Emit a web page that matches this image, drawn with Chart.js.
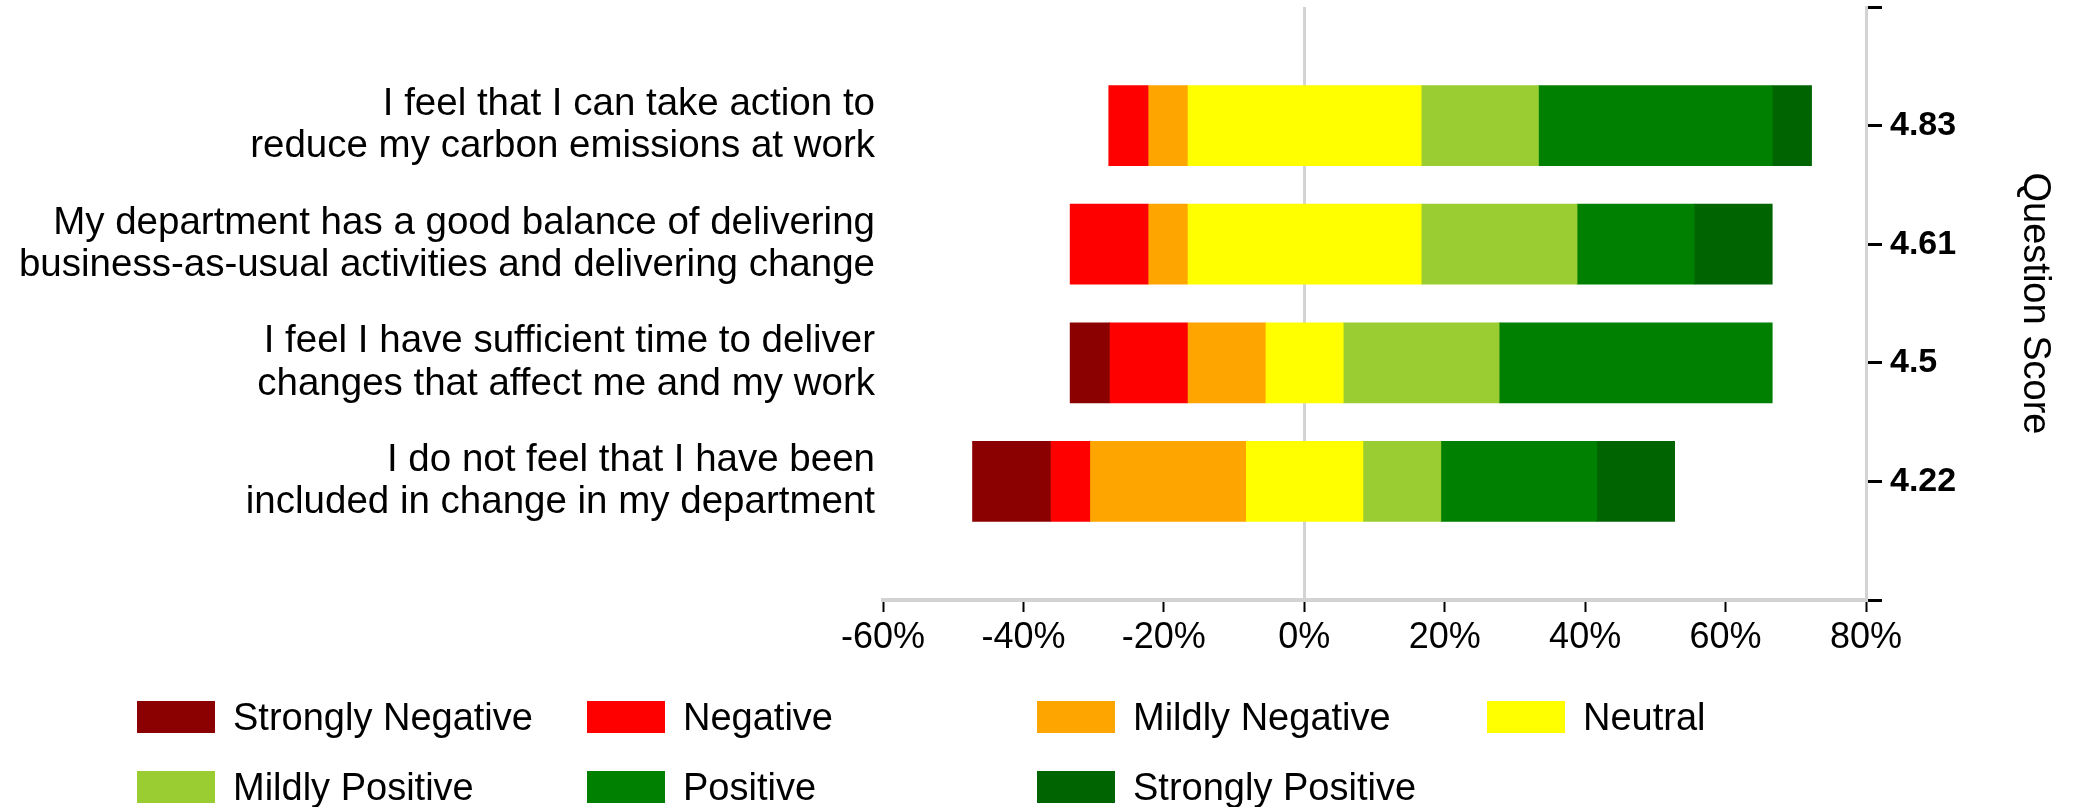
<!DOCTYPE html>
<html>
<head>
<meta charset="utf-8">
<script src="https://cdn.jsdelivr.net/npm/chart.js@4"></script>
<style>
  body { margin: 0; background: #fff; font-family: "Liberation Sans", Arial, sans-serif; }
  #wrap { position: relative; width: 2075px; height: 807px; }
  #legend { position: absolute; left: 137px; top: 701px; display: grid; grid-template-columns: repeat(4, 450px); row-gap: 38px; }
  .item { display: flex; align-items: center; height: 32px; font-size: 38px; color: #000; white-space: nowrap; }
  .swatch { width: 78px; height: 32px; margin-right: 18px; flex: none; }
</style>
</head>
<body>
<div id="wrap">
  <canvas id="chart" width="2075" height="807"></canvas>
  <div id="legend"></div>
</div>
<script>
// questions, top to bottom
const questions = [
    ['I feel that I can take action to', 'reduce my carbon emissions at work'],
    ['My department has a good balance of delivering', 'business-as-usual activities and delivering change'],
    ['I feel I have sufficient time to deliver', 'changes that affect me and my work'],
    ['I do not feel that I have been', 'included in change in my department']
];
const scores = ['4.83', '4.61', '4.5', '4.22'];

const levels = ['Strongly Negative', 'Negative', 'Mildly Negative', 'Neutral', 'Mildly Positive', 'Positive', 'Strongly Positive'];
const colors = ['#8b0000', '#ff0000', '#ffa500', '#ffff00', '#9acd32', '#008000', '#006400'];

// % of responses per question
const stronglyNegative = [0, 0, 5.6, 11.1];
const negative = [5.6, 11.1, 11.1, 5.6];
const mildlyNegative = [5.6, 5.6, 11.1, 22.2];
const neutral = [33.3, 33.3, 11.1, 16.7];
const mildlyPositive = [16.7, 22.2, 22.2, 11.1];
const positive = [33.3, 16.7, 38.9, 22.2];
const stronglyPositive = [5.6, 11.1, 0, 11.1];

const xTicks = [-60, -40, -20, 0, 20, 40, 60, 80];

const series = [stronglyNegative, negative, mildlyNegative, neutral, mildlyPositive, positive, stronglyPositive];

// neutral is centred on zero, everything else stacks out from it
const starts = questions.map((q, i) => -(stronglyNegative[i] + negative[i] + mildlyNegative[i] + neutral[i] / 2));

const datasets = series.map((values, k) => ({
    label: levels[k],
    backgroundColor: colors[k],
    yAxisID: 'y',
    grouped: false,
    barThickness: 80,
    borderWidth: 0,
    data: [null].concat(values.map((v, i) => {
        let s = starts[i];
        for (let j = 0; j < k; j++) s += series[j][i];
        return v ? [s, s + v] : null;
    }), [null])
}));

Chart.defaults.font.family = '"Liberation Sans", Arial, sans-serif';
Chart.defaults.color = '#000';

const noEdgePadding = scale => { scale.paddingTop = 0; scale.paddingBottom = 0; };

const chart = new Chart(document.getElementById('chart').getContext('2d'), {
    type: 'bar',
    data: {
        labels: [''].concat(questions, ['']),
        datasets: datasets
    },
    options: {
        indexAxis: 'y',
        responsive: false,
        animation: false,
        layout: { padding: { top: 7, left: 0, right: 0, bottom: 0 } },
        plugins: {
            legend: { display: false },
            tooltip: { enabled: false }
        },
        scales: {
            x: {
                type: 'linear',
                min: xTicks[0],
                max: xTicks[xTicks.length - 1],
                afterBuildTicks: scale => { scale.ticks = xTicks.map(v => ({ value: v })); },
                afterFit: scale => { scale.height = 207; },
                grid: {
                    color: ctx => ctx.tick && ctx.tick.value === 0 ? '#d3d3d3' : 'rgba(0,0,0,0)',
                    lineWidth: 3,
                    tickColor: '#000',
                    tickWidth: 2,
                    tickLength: 12
                },
                border: { color: '#d3d3d3', width: 4 },
                ticks: {
                    font: { size: 36 },
                    padding: 4,
                    maxRotation: 0,
                    callback: v => v + '%'
                }
            },
            y: {
                position: 'left',
                offset: false,
                afterFit: scale => { scale.width = 883; noEdgePadding(scale); },
                grid: { display: false, drawTicks: false },
                border: { display: false },
                ticks: {
                    autoSkip: false,
                    font: { size: 38.5, lineHeight: 1.1 },
                    padding: 8
                }
            },
            y2: {
                type: 'category',
                position: 'right',
                labels: [''].concat(scores, ['']),
                offset: false,
                afterFit: scale => { scale.width = 209; noEdgePadding(scale); },
                grid: {
                    offset: false,
                    drawOnChartArea: false,
                    tickColor: '#000',
                    tickWidth: 3,
                    tickLength: 16
                },
                border: { color: '#d3d3d3', width: 3 },
                ticks: {
                    autoSkip: false,
                    font: { size: 34, weight: 'bold' },
                    padding: 8
                },
                title: {
                    display: true,
                    text: 'Question Score',
                    font: { size: 38 },
                    padding: { top: 18, bottom: 0 }
                }
            }
        }
    }
});

// legend as a 4-column grid, same order as the datasets
const legendEl = document.getElementById('legend');
chart.data.datasets.forEach(ds => {
    const item = document.createElement('div');
    item.className = 'item';
    item.innerHTML = '<span class="swatch" style="background:' + ds.backgroundColor + '"></span>' + ds.label;
    legendEl.appendChild(item);
});
</script>
</body>
</html>
